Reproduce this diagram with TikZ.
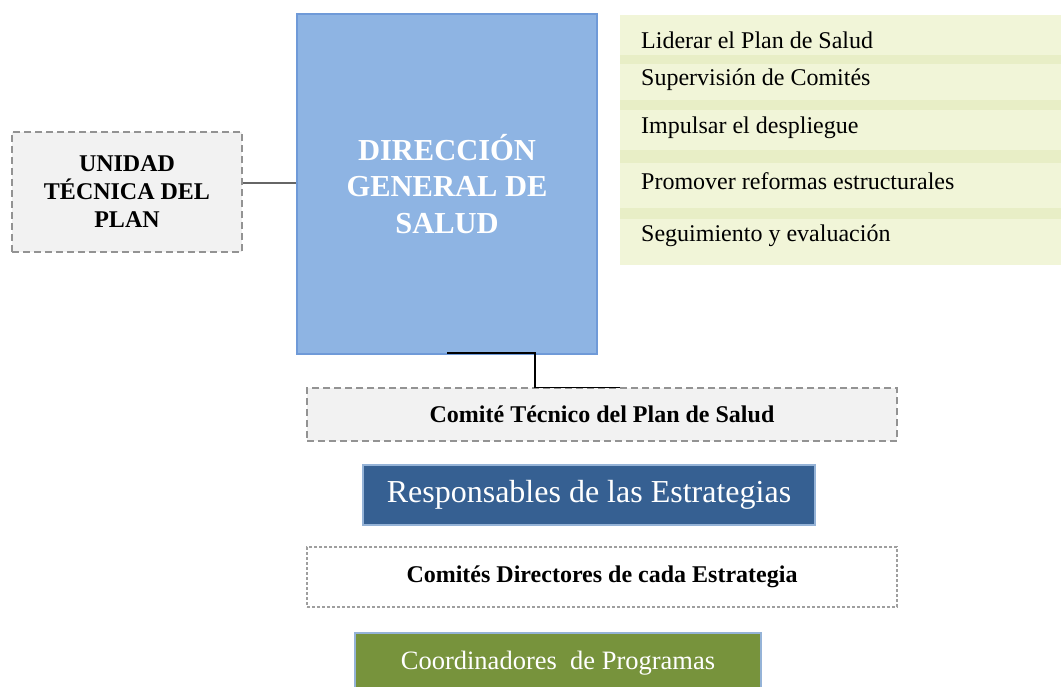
\documentclass[tikz,border=0pt]{standalone}
\usepackage{fontspec}
\setmainfont{Liberation Serif}
\begin{document}
\begin{tikzpicture}[x=1pt,y=-1pt,
  dashbox/.style={draw=gray!85,dash pattern=on 7pt off 4pt,line width=1.3pt,fill=gray!10,inner sep=0pt},
  dotbox/.style={draw=gray!75,dash pattern=on 3pt off 2pt,line width=2.2pt,fill=white,inner sep=0pt},
  solidbox/.style={draw=#1,line width=1.2pt,inner sep=0pt},
  item/.style={anchor=west,font=\fontsize{24}{26}\selectfont,inner sep=0pt}
]
\useasboundingbox (0,0) rectangle (1061,686);
\definecolor{dirblue}{HTML}{8EB4E3}
\definecolor{dirborder}{HTML}{6F9AD8}
\definecolor{respblue}{HTML}{366092}
\definecolor{coordgreen}{HTML}{77933C}
\definecolor{lightborder}{HTML}{95B3D7}
\definecolor{texgreen}{HTML}{F1F5D8}
\definecolor{texband}{HTML}{E8EEC6}

% textured area
\fill[texgreen] (620,15) rectangle (1061,265);
\fill[texband] (620,55) rectangle (1061,64);
\fill[texband] (620,100) rectangle (1061,110);
\fill[texband] (620,150) rectangle (1061,163);
\fill[texband] (620,208) rectangle (1061,219);
\node[item] (t1) at (641,40) {Liderar el Plan de Salud};
\node[item] (t2) at (641,80) {Supervisión de Comités};
\node[item] (t3) at (641,128) {Impulsar el despliegue};
\node[item] (t4) at (641,181) {Promover reformas estructurales};
\node[item] (t5) at (641,236) {Seguimiento y evaluación};

% main boxes
\node[dashbox,minimum width=230pt,minimum height=120pt,align=center,
  font=\fontsize{24}{28}\selectfont\bfseries] (ut) at (127,192) {UNIDAD\\TÉCNICA DEL\\PLAN};
\node[solidbox=dirborder,fill=dirblue,minimum width=300pt,minimum height=340pt,align=center,
  text=white,font=\fontsize{30.5}{36.5}\selectfont\bfseries] (dg) at (447,184) {DIRECCIÓN\\GENERAL DE\\SALUD};

\node[dashbox,minimum width=590pt,minimum height=53pt,
  font=\fontsize{24}{28}\selectfont\bfseries] (ct) at (602,414.5) {Comité Técnico del Plan de Salud};
\node[solidbox=lightborder,fill=respblue,minimum width=452pt,minimum height=60pt,
  text=white,font=\fontsize{32}{36}\selectfont] (re) at (589,495) {Responsables de las Estrategias};
\node[dotbox,minimum width=590pt,minimum height=60pt,
  font=\fontsize{24}{28}\selectfont\bfseries] (cd) at (602,577) {Comités Directores de cada Estrategia};
\node[solidbox=lightborder,fill=coordgreen,minimum width=406pt,minimum height=60pt,
  text=white,font=\fontsize{26.5}{30}\selectfont] (co) at (558,663) {Coordinadores\ \ de Programas};

% connectors
\draw[gray!80!black,line width=1.2pt] (ut.east |- 0,183) -- (dg.west |- 0,183);
\coordinate (c1) at (447,353);
\coordinate (c2) at (620,387.5);
\draw[black,line width=1.5pt] (c1) -- (535,353) -- (535,387.5) -- (c2);
\end{tikzpicture}
\end{document}
